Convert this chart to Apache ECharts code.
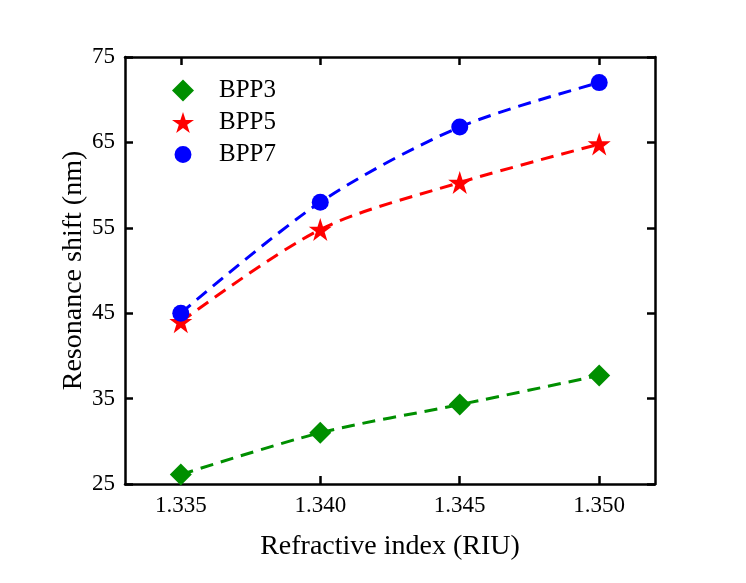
<!DOCTYPE html>
<html>
    <head>
        <meta charset="utf-8">
        <title>Resonance shift</title>
        <style>
            html, body { margin: 0; padding: 0; background: #fff; }
            #chart1 { width: 746px; height: 583px; }
        </style>
    </head>
    <body>
        <div id="chart1"></div>
    </body>
    <script src="https://cdn.jsdelivr.net/npm/echarts@6.0.0/dist/echarts.min.js"></script>
    <script type="text/javascript">
        // data
        var riu = [1.335, 1.340, 1.345, 1.350];
        var xTicks = [1.335, 1.340, 1.345, 1.350];
        var bpp3 = [26.1, 31.0, 34.3, 37.7];
        var bpp5 = [44.0, 54.8, 60.3, 64.8];
        var bpp7 = [45.0, 58.0, 66.8, 72.0];

        var starPath = 'path://M50,0 L62,36 L100,36 L69,58 L81,95 L50,72 L19,95 L31,58 L0,36 L38,36 Z';
        // circle with empty margin so the legend icon comes out smaller than its box
        var smallCircle = 'path://M0,0 L0.01,0 M100,100 L99.99,100 M11.5,50 A38.5,38.5 0 1 1 88.5,50 A38.5,38.5 0 1 1 11.5,50 Z';
        var font = 'Liberation Serif';

        function pairs(ys) {
            return riu.map(function (x, i) { return [x, ys[i]]; });
        }

        function fitLine(name, ys, color) {
            return {
                name: name,
                type: 'line',
                smooth: 0.3,
                showSymbol: false,
                silent: true,
                z: 2,
                lineStyle: { color: color, width: 3, type: [13, 8] },
                data: pairs(ys)
            };
        }

        function points(name, ys, color, symbol, size) {
            return {
                name: name,
                type: 'scatter',
                symbol: symbol,
                symbolSize: size,
                z: 3,
                itemStyle: { color: color, opacity: 1 },
                data: pairs(ys)
            };
        }

        var myChart = echarts.init(document.getElementById('chart1'));

        var frame = { show: true, onZero: false, lineStyle: { color: '#000', width: 2.5 } };
        var tick = { show: true, inside: true, length: 8, lineStyle: { color: '#000', width: 2.5 } };

        var option = {
            animation: false,
            backgroundColor: '#fff',
            grid: { left: 125, right: 91, top: 57, bottom: 99 },
            legend: {
                orient: 'vertical',
                left: 172,
                top: 78,
                padding: 0,
                itemWidth: 22,
                itemHeight: 22,
                itemGap: 7,
                data: [
                    { name: 'BPP3', icon: 'diamond' },
                    { name: 'BPP5', icon: starPath },
                    { name: 'BPP7', icon: smallCircle }
                ],
                textStyle: { fontFamily: font, fontSize: 25, color: '#000', padding: [0, 0, 0, 20] }
            },
            xAxis: [{
                type: 'value',
                min: 1.333,
                max: 1.352,
                name: 'Refractive index (RIU)',
                nameLocation: 'middle',
                nameGap: 49,
                nameTextStyle: { fontFamily: font, fontSize: 28, color: '#000' },
                axisLine: frame,
                axisTick: Object.assign({ customValues: xTicks }, tick),
                axisLabel: {
                    customValues: xTicks,
                    margin: 10,
                    fontFamily: font, fontSize: 23, color: '#000',
                    formatter: function (v) { return v.toFixed(3); }
                },
                splitLine: { show: false }
            }, {
                type: 'value',
                position: 'top',
                min: 1.333,
                max: 1.352,
                axisLine: frame,
                axisTick: Object.assign({ customValues: xTicks }, tick),
                axisLabel: { show: false },
                splitLine: { show: false }
            }],
            yAxis: [{
                type: 'value',
                min: 25,
                max: 75,
                interval: 10,
                name: 'Resonance shift (nm)',
                nameLocation: 'middle',
                nameGap: 37,
                nameMoveOverlap: false,
                nameTextStyle: { fontFamily: font, fontSize: 28, color: '#000' },
                axisLine: frame,
                axisTick: tick,
                axisLabel: { margin: 10, fontFamily: font, fontSize: 23, color: '#000' },
                splitLine: { show: false }
            }, {
                type: 'value',
                position: 'right',
                min: 25,
                max: 75,
                interval: 10,
                axisLine: frame,
                axisTick: tick,
                axisLabel: { show: false },
                splitLine: { show: false }
            }],
            series: [
                fitLine('fit3', bpp3, '#008f00'),
                fitLine('fit5', bpp5, '#ff0000'),
                fitLine('fit7', bpp7, '#0000ff'),
                points('BPP3', bpp3, '#008f00', 'diamond', 22),
                points('BPP5', bpp5, '#ff0000', starPath, 23),
                points('BPP7', bpp7, '#0000ff', 'circle', 17)
            ]
        };

        myChart.setOption(option);
    </script>
</html>
